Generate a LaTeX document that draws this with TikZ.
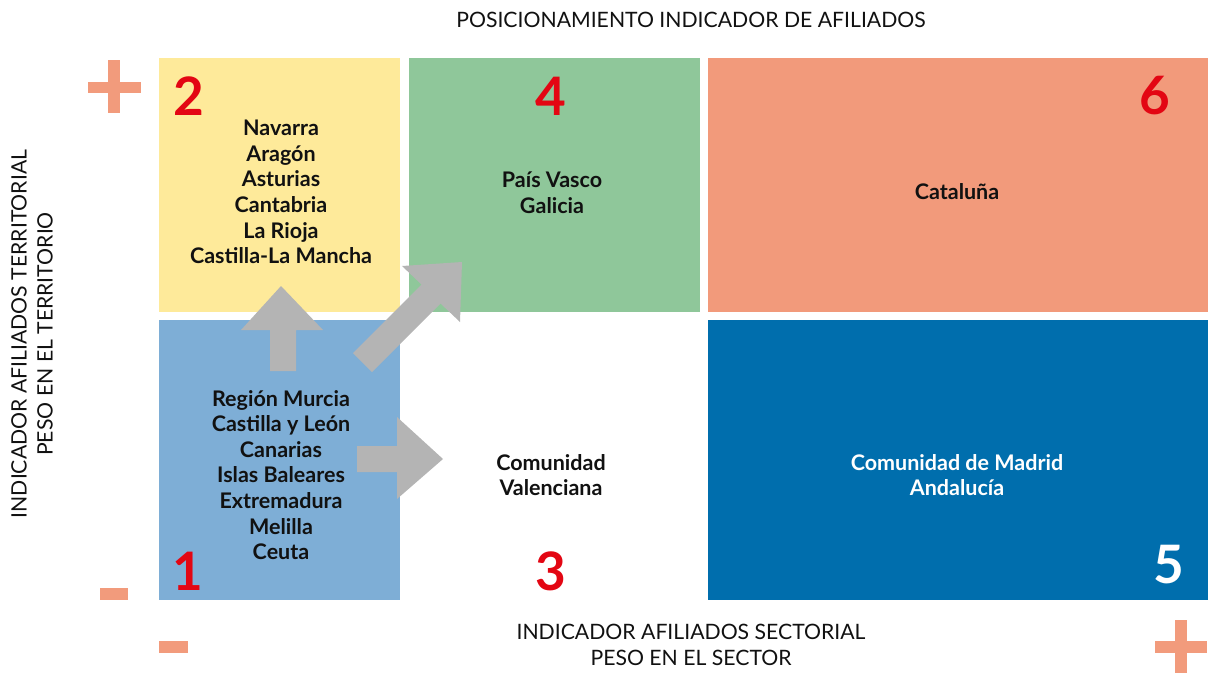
\documentclass[tikz,border=0pt]{standalone}
\usepackage{fontspec}
\setmainfont{Lato}
\definecolor{cyellow}{HTML}{FEEA9A}
\definecolor{cgreen}{HTML}{8FC79A}
\definecolor{csalmon}{HTML}{F29A7B}
\definecolor{clblue}{HTML}{7EAED6}
\definecolor{cdblue}{HTML}{006EAD}
\definecolor{cred}{HTML}{E30613}
\definecolor{cgray}{HTML}{B4B4B4}
\definecolor{cmark}{HTML}{F29B7C}
\definecolor{ctext}{HTML}{111111}
\tikzset{
  names/.style={align=center, text=ctext, font=\bfseries\fontsize{21.5}{25.6}\selectfont, inner sep=0pt},
  bignum/.style={text=cred, font=\bfseries\fontsize{53}{53}\selectfont, inner sep=0pt},
  axislabel/.style={align=center, text=ctext, font=\fontsize{21.2}{26}\selectfont, inner sep=0pt},
  blockarrow/.style={fill=cgray, draw=none},
  marksign/.style={fill=cmark, draw=none}
}
\begin{document}
\begin{tikzpicture}[x=1pt,y=-1pt]
\useasboundingbox (0,0) rectangle (1208,675);
% quadrant boxes
\fill[cyellow] (159,58) rectangle (400,312);
\fill[cgreen] (409,58) rectangle (700,312);
\fill[csalmon] (708,58) rectangle (1208,312);
\fill[clblue] (159,320) rectangle (400,600);
\fill[cdblue] (708,320) rectangle (1208,600);
% big numbers
\node[bignum] (n2) at (189,96) {2};
\node[bignum] (n4) at (551,96) {4};
\node[bignum] (n6) at (1155,96) {6};
\node[bignum] (n1) at (188,571) {1};
\node[bignum] (n3) at (551,571) {3};
\node[bignum, text=white] (n5) at (1169,565) {5};
% block arrows
\fill[blockarrow] (270,371) -- (270,330) -- (241,330) -- (281,286) -- (323,330) -- (296,330) -- (296,371) -- cycle;
\fill[blockarrow] (357,446) -- (397,446) -- (397,417) -- (443,459) -- (397,499) -- (397,472) -- (357,472) -- cycle;
\fill[blockarrow] (353,353) -- (421.5,284.5) -- (402,266) -- (462,262) -- (460,322) -- (440.5,303.5) -- (372,372) -- cycle;
% names
\node[names] (q2) at (281,192) {Navarra\\Aragón\\Asturias\\Cantabria\\La Rioja\\Castilla-La Mancha};
\node[names] (q4) at (552,193) {País Vasco\\Galicia};
\node[names] (q6) at (957,192) {Cataluña};
\node[names] (q1) at (281,475) {Región Murcia\\Castilla y León\\Canarias\\Islas Baleares\\Extremadura\\Melilla\\Ceuta};
\node[names] (q3) at (551,475) {Comunidad\\Valenciana};
\node[names, text=white] (q5) at (957,475) {Comunidad de Madrid\\Andalucía};
% axis labels
\node[axislabel] (top) at (691,20) {POSICIONAMIENTO INDICADOR DE AFILIADOS};
\node[axislabel] (bottom) at (691,645) {INDICADOR AFILIADOS SECTORIAL\\PESO EN EL SECTOR};
\node[axislabel, rotate=90] (left) at (32,334) {INDICADOR AFILIADOS TERRITORIAL\\PESO EN EL TERRITORIO};
% plus / minus signs
\fill[marksign] (88,82) rectangle (141,93);
\fill[marksign] (108,60) rectangle (120,113);
\fill[marksign] (100,588) rectangle (128,600);
\fill[marksign] (159,641) rectangle (188,653);
\fill[marksign] (1155,641) rectangle (1207,653);
\fill[marksign] (1175,620) rectangle (1187,673);
\end{tikzpicture}
\end{document}
